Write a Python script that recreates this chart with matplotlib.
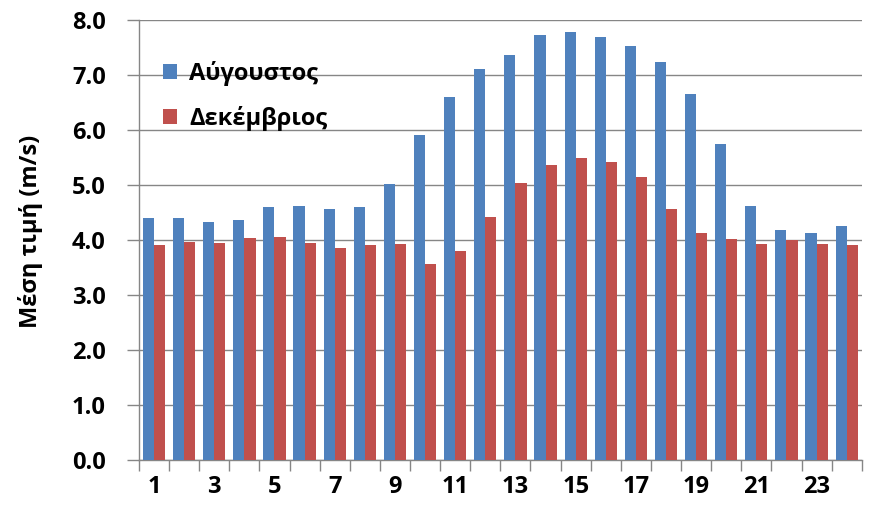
import numpy as np
import matplotlib
matplotlib.use('Agg')
import matplotlib.pyplot as plt

# hourly mean values
hours = list(range(1, 25))
august = [4.40, 4.40, 4.33, 4.36, 4.60, 4.62, 4.56, 4.60, 5.02, 5.91, 6.60, 7.11,
          7.36, 7.73, 7.78, 7.69, 7.53, 7.24, 6.65, 5.75, 4.62, 4.18, 4.13, 4.25]
december = [3.91, 3.96, 3.95, 4.04, 4.05, 3.95, 3.85, 3.91, 3.93, 3.56, 3.80, 4.42,
            5.04, 5.36, 5.49, 5.42, 5.15, 4.56, 4.13, 4.02, 3.93, 4.00, 3.93, 3.91]
yticks = np.arange(0, 8.01, 1.0)

plt.rcParams['font.family'] = ['Open Sans', 'DejaVu Sans']

fig = plt.figure(figsize=(8.74, 5.07), dpi=100)
ax = fig.add_axes([0.159, 0.093, 0.827, 0.868])

x = np.arange(len(hours))
w = 0.37
ax.bar(x - w / 2, august, w, color='#4F81BD', label='Αύγουστος', zorder=3)
ax.bar(x + w / 2, december, w, color='#C0504D', label='Δεκέμβριος', zorder=3)

ax.set_xlim(-0.5, len(hours) - 0.5)
ax.set_ylim(0, 8)
ax.set_yticks(yticks)
ax.set_yticklabels(['%.1f' % v for v in yticks])
ax.yaxis.grid(True, color='#868686', linewidth=1.0, zorder=0)

# labels on odd hours, tick marks between categories
ax.set_xticks(x[::2])
ax.set_xticklabels([str(h) for h in hours[::2]])
ax.set_xticks(np.arange(-0.5, len(hours), 1.0), minor=True)
ax.tick_params(axis='x', which='major', length=0, pad=11)
ax.tick_params(axis='x', which='minor', length=8, color='#868686', width=1)
ax.tick_params(axis='y', length=9, color='#868686', width=1, pad=15)

for lab in ax.get_xticklabels() + ax.get_yticklabels():
    lab.set_fontsize(17)
    lab.set_fontweight('bold')

for s in ['top', 'right']:
    ax.spines[s].set_visible(False)
for s in ['left', 'bottom']:
    ax.spines[s].set_color('#868686')
    ax.spines[s].set_linewidth(1)

ax.set_ylabel('Μέση τιμή (m/s)', fontsize=17, fontweight='bold')
ax.yaxis.set_label_coords(-0.133, 0.52)

leg = ax.legend(loc='upper left', bbox_to_anchor=(0.004, 0.955), frameon=False,
                prop={'size': 17, 'weight': 'bold'}, handlelength=0.6, handleheight=0.6,
                handletextpad=0.5, labelspacing=0.85)

fig.savefig('out.png', dpi=100)
